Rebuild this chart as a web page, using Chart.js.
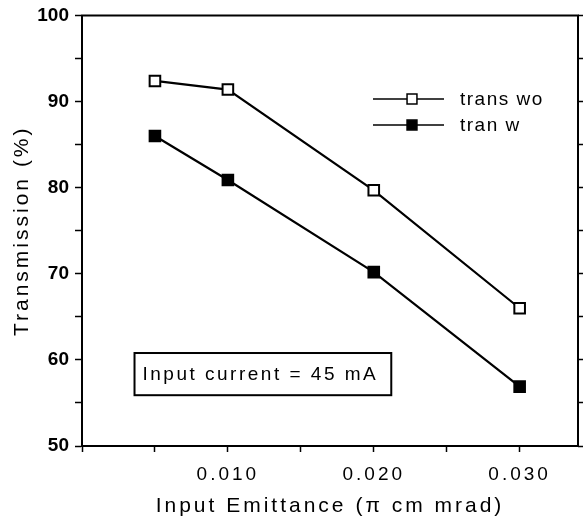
<!DOCTYPE html>
<html>
<head>
<meta charset="utf-8">
<script src="https://cdn.jsdelivr.net/npm/chart.js@4.4.1/dist/chart.umd.min.js"></script>
<style>
html, body { margin: 0; padding: 0; background: #fff; }
canvas { display: block; }
</style>
</head>
<body>
<canvas id="chart" width="588" height="521" style="width:588px;height:521px"></canvas>
<script>
const emittance = [0.005, 0.010, 0.020, 0.030];
const transWo = [92.4, 91.4, 79.7, 66.0];
const tranW = [86.0, 80.9, 70.2, 56.9];
const seriesLabels = ['trans wo', 'tran w'];
const xTickValues = [0.010, 0.020, 0.030];
const xTickLabels = ['0.010', '0.020', '0.030'];
const yTickValues = [50, 60, 70, 80, 90, 100];
const noteText = 'Input current = 45 mA';

const fontFamily = '"Liberation Sans", Arial, Helvetica, sans-serif';
const ink = '#000';

// note box corners in data units
const noteBox = { x0: 0.0036, x1: 0.0212, y0: 60.8, y1: 55.9 };

const toPoints = ys => emittance.map((x, i) => ({ x, y: ys[i] }));

const series = (label, ys, fill) => ({
  label,
  data: toPoints(ys),
  borderColor: ink,
  borderWidth: 2.2,
  pointStyle: 'rect',
  pointRadius: 7.5,
  pointBorderWidth: 2,
  pointBorderColor: ink,
  pointBackgroundColor: fill,
  tension: 0
});

const framePlugin = {
  id: 'frame',
  afterUpdate(chart) {
    // y tick numbers are set tight in the original, the rest is spaced out
    const s = chart.scales.y;
    if (s && !s._tight) {
      const orig = s.drawLabels;
      s.drawLabels = function (area) {
        const sp = this.ctx.letterSpacing;
        this.ctx.letterSpacing = '0px';
        orig.call(this, area);
        this.ctx.letterSpacing = sp;
      };
      s._tight = true;
    }
  },
  beforeDraw(chart) {
    chart.ctx.letterSpacing = '3px';
  },
  afterDraw(chart) {
    const { ctx, chartArea: a, scales } = chart;
    ctx.save();
    ctx.strokeStyle = ink;
    ctx.lineWidth = 2;
    ctx.strokeRect(a.left, a.top, a.right - a.left, a.bottom - a.top);

    // legend
    ctx.font = `19px ${fontFamily}`;
    ctx.letterSpacing = '1.5px';
    ctx.textBaseline = 'middle';
    ctx.textAlign = 'left';
    chart.data.datasets.forEach((ds, i) => {
      const y = 99 + i * 26;
      ctx.beginPath();
      ctx.lineWidth = 1.5;
      ctx.moveTo(373, y);
      ctx.lineTo(444, y);
      ctx.stroke();
      ctx.fillStyle = ds.pointBackgroundColor;
      ctx.strokeStyle = ink;
      Chart.helpers.drawPoint(ctx, { pointStyle: 'rect', radius: 7, borderWidth: 2 }, 412, y);
      ctx.fillStyle = ink;
      ctx.fillText(ds.label, 460, y + 1);
    });

    // note box
    const x0 = scales.x.getPixelForValue(noteBox.x0);
    const x1 = scales.x.getPixelForValue(noteBox.x1);
    const y0 = scales.y.getPixelForValue(noteBox.y0);
    const y1 = scales.y.getPixelForValue(noteBox.y1);
    ctx.lineWidth = 2;
    ctx.strokeStyle = ink;
    ctx.strokeRect(x0, y0, x1 - x0, y1 - y0);
    ctx.letterSpacing = '2.5px';
    ctx.fillStyle = ink;
    ctx.fillText(noteText, x0 + 8, (y0 + y1) / 2 + 1);
    ctx.restore();
  }
};

new Chart(document.getElementById('chart'), {
  type: 'line',
  data: {
    datasets: [
      series(seriesLabels[0], transWo, '#fff'),
      series(seriesLabels[1], tranW, ink)
    ]
  },
  options: {
    responsive: false,
    animation: false,
    layout: { padding: { top: 15, left: 0, right: 0, bottom: 0 } },
    plugins: { legend: { display: false }, tooltip: { enabled: false } },
    scales: {
      x: {
        type: 'linear',
        min: 0,
        max: 0.034,
        afterFit: s => { s.height = 75; },
        ticks: {
          stepSize: 0.005,
          includeBounds: false,
          autoSkip: false,
          maxRotation: 0,
          padding: 11,
          color: ink,
          font: { family: fontFamily, size: 19 },
          callback: v => {
            const i = xTickValues.findIndex(t => Math.abs(t - v) < 1e-6);
            return i >= 0 ? xTickLabels[i] : '';
          }
        },
        grid: { drawOnChartArea: false, tickLength: 6, color: ink, tickWidth: 1.5 },
        border: { color: ink, width: 2 },
        title: {
          display: true,
          text: 'Input Emittance (π cm mrad)',
          color: ink,
          font: { family: fontFamily, size: 21 },
          padding: { top: 0, bottom: 2 }
        }
      },
      y: {
        min: 50,
        max: 100,
        afterFit: s => { s.width = 82; },
        ticks: {
          stepSize: 5,
          padding: 6,
          color: ink,
          font: { family: fontFamily, size: 19, weight: 'bold', lineHeight: 1 },
          callback: v => yTickValues.includes(v) ? String(v) : ''
        },
        grid: { drawOnChartArea: false, tickLength: 7, color: ink, tickWidth: 1.5 },
        border: { color: ink, width: 2 },
        title: {
          display: true,
          text: 'Transmission (%)',
          color: ink,
          font: { family: fontFamily, size: 21 },
          padding: { top: 10, bottom: 0 }
        }
      },
      y2: {
        position: 'right',
        min: 50,
        max: 100,
        afterFit: s => { s.width = 10; },
        ticks: { stepSize: 5, display: false },
        grid: { drawOnChartArea: false, tickLength: 5, color: ink, tickWidth: 1.5 },
        border: { display: false }
      }
    }
  },
  plugins: [framePlugin]
});
</script>
</body>
</html>
